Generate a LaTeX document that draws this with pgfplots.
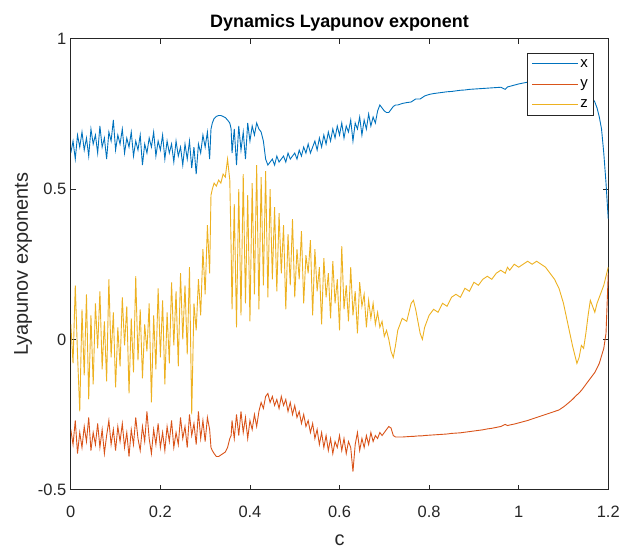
\documentclass[border=0pt]{standalone}
\usepackage{fontspec}
\setmainfont{Liberation Sans}
\usepackage{pgfplots}
\usepackage{pgfplotstable}
\pgfplotsset{compat=1.18}
\definecolor{mblue}{rgb}{0,0.447,0.741}
\definecolor{morange}{rgb}{0.85,0.325,0.098}
\definecolor{myellow}{rgb}{0.929,0.694,0.125}
\definecolor{axgray}{rgb}{0.15,0.15,0.15}
\pgfplotstableread{
c x y z
0.000 0.62 -0.30 0.05
0.005 0.66 -0.35 -0.08
0.010 0.60 -0.27 0.18
0.015 0.68 -0.38 -0.05
0.020 0.64 -0.31 -0.24
0.025 0.69 -0.36 0.10
0.030 0.63 -0.29 -0.12
0.035 0.67 -0.34 0.15
0.040 0.61 -0.26 -0.20
0.045 0.70 -0.37 0.08
0.050 0.65 -0.31 -0.15
0.055 0.68 -0.35 0.12
0.060 0.62 -0.28 -0.03
0.065 0.71 -0.36 0.16
0.070 0.64 -0.30 -0.10
0.075 0.67 -0.38 0.06
0.080 0.60 -0.32 -0.14
0.085 0.69 -0.27 0.20
0.090 0.66 -0.35 -0.06
0.095 0.73 -0.30 0.09
0.100 0.63 -0.37 -0.16
0.105 0.68 -0.29 0.04
0.110 0.65 -0.34 -0.09
0.115 0.70 -0.28 0.14
0.120 0.62 -0.36 -0.02
0.125 0.67 -0.31 0.11
0.130 0.64 -0.39 -0.18
0.135 0.69 -0.30 0.07
0.140 0.61 -0.35 -0.11
0.145 0.66 -0.26 0.21
0.150 0.63 -0.33 -0.07
0.155 0.68 -0.37 0.10
0.160 0.58 -0.29 -0.13
0.165 0.65 -0.34 0.05
0.170 0.62 -0.24 -0.04
0.175 0.67 -0.33 0.12
0.180 0.64 -0.38 -0.21
0.185 0.69 -0.30 0.08
0.190 0.61 -0.35 -0.10
0.195 0.66 -0.28 0.17
0.200 0.63 -0.36 -0.06
0.205 0.68 -0.31 0.13
0.210 0.60 -0.37 -0.15
0.215 0.66 -0.29 0.09
0.220 0.62 -0.34 -0.08
0.225 0.65 -0.27 0.19
0.230 0.59 -0.36 -0.02
0.235 0.66 -0.31 0.16
0.240 0.61 -0.35 -0.09
0.245 0.64 -0.26 0.22
0.250 0.58 -0.33 0.00
0.255 0.65 -0.29 0.18
0.260 0.60 -0.36 -0.05
0.265 0.66 -0.25 0.24
0.270 0.57 -0.32 -0.25
0.275 0.64 -0.28 0.12
0.280 0.55 -0.35 0.03
0.285 0.65 -0.24 0.20
0.290 0.62 -0.33 0.08
0.295 0.68 -0.27 0.30
0.300 0.64 -0.34 0.15
0.305 0.69 -0.26 0.38
0.310 0.60 -0.30 0.22
0.313 0.70 -0.36 0.48
0.316 0.72 -0.37 0.50
0.320 0.735 -0.38 0.52
0.325 0.742 -0.39 0.51
0.330 0.745 -0.39 0.53
0.335 0.745 -0.385 0.52
0.340 0.742 -0.38 0.55
0.345 0.738 -0.375 0.54
0.350 0.73 -0.36 0.60
0.355 0.72 -0.33 0.53
0.358 0.70 -0.32 0.30
0.360 0.62 -0.27 0.10
0.365 0.70 -0.33 0.45
0.370 0.58 -0.25 0.04
0.375 0.71 -0.32 0.50
0.380 0.63 -0.24 0.08
0.385 0.69 -0.31 0.55
0.390 0.60 -0.26 0.12
0.395 0.72 -0.33 0.48
0.400 0.66 -0.27 0.06
0.405 0.71 -0.30 0.52
0.410 0.68 -0.25 0.15
0.415 0.72 -0.29 0.58
0.420 0.70 -0.24 0.10
0.425 0.69 -0.21 0.54
0.430 0.66 -0.23 0.18
0.435 0.60 -0.19 0.56
0.440 0.58 -0.18 0.14
0.445 0.59 -0.21 0.50
0.450 0.60 -0.19 0.20
0.455 0.58 -0.22 0.44
0.460 0.61 -0.20 0.16
0.465 0.59 -0.23 0.42
0.470 0.60 -0.19 0.22
0.475 0.61 -0.22 0.38
0.480 0.59 -0.20 0.10
0.485 0.62 -0.24 0.35
0.490 0.60 -0.21 0.18
0.495 0.61 -0.25 0.40
0.500 0.62 -0.22 0.14
0.505 0.60 -0.26 0.30
0.510 0.63 -0.24 0.20
0.515 0.61 -0.28 0.36
0.520 0.64 -0.25 0.12
0.525 0.62 -0.29 0.28
0.530 0.65 -0.27 0.22
0.535 0.62 -0.31 0.33
0.540 0.64 -0.28 0.08
0.545 0.66 -0.33 0.30
0.550 0.63 -0.30 0.16
0.555 0.67 -0.35 0.24
0.560 0.64 -0.31 0.05
0.565 0.68 -0.36 0.27
0.570 0.65 -0.32 0.14
0.575 0.69 -0.37 0.22
0.580 0.66 -0.33 0.07
0.585 0.70 -0.38 0.26
0.590 0.67 -0.34 0.12
0.595 0.71 -0.36 0.20
0.600 0.68 -0.32 0.03
0.605 0.72 -0.37 0.31
0.610 0.67 -0.33 0.10
0.615 0.71 -0.38 0.18
0.620 0.69 -0.34 0.06
0.625 0.73 -0.36 0.24
0.630 0.66 -0.44 0.08
0.635 0.72 -0.35 0.16
0.640 0.70 -0.31 0.02
0.645 0.74 -0.37 0.19
0.650 0.68 -0.33 0.11
0.655 0.73 -0.36 0.15
0.660 0.70 -0.32 0.04
0.665 0.75 -0.35 0.13
0.670 0.71 -0.31 0.07
0.675 0.74 -0.34 0.12
0.680 0.72 -0.32 0.05
0.685 0.76 -0.33 0.09
0.690 0.78 -0.31 0.04
0.695 0.77 -0.32 0.06
0.700 0.76 -0.31 0.01
0.705 0.755 -0.30 0.03
0.710 0.755 -0.29 0.00
0.715 0.765 -0.295 -0.04
0.720 0.775 -0.32 -0.06
0.725 0.78 -0.325 -0.02
0.730 0.78 -0.325 0.03
0.740 0.785 -0.325 0.07
0.750 0.788 -0.324 0.06
0.760 0.79 -0.323 0.12
0.765 0.795 -0.323 0.13
0.770 0.80 -0.322 0.10
0.780 0.80 -0.321 0.02
0.785 0.805 -0.321 0.00
0.790 0.81 -0.32 0.04
0.800 0.815 -0.319 0.08
0.810 0.818 -0.318 0.10
0.820 0.82 -0.317 0.09
0.830 0.822 -0.316 0.12
0.840 0.824 -0.315 0.11
0.850 0.825 -0.313 0.14
0.860 0.827 -0.312 0.15
0.870 0.829 -0.311 0.14
0.880 0.83 -0.309 0.17
0.890 0.832 -0.307 0.16
0.900 0.833 -0.305 0.19
0.910 0.834 -0.303 0.18
0.920 0.835 -0.301 0.20
0.930 0.836 -0.298 0.21
0.940 0.837 -0.296 0.20
0.950 0.838 -0.293 0.22
0.960 0.839 -0.290 0.23
0.970 0.832 -0.283 0.22
0.975 0.84 -0.287 0.24
0.980 0.842 -0.285 0.23
0.990 0.846 -0.282 0.25
1.000 0.85 -0.278 0.24
1.010 0.853 -0.274 0.25
1.020 0.856 -0.270 0.26
1.030 0.858 -0.265 0.25
1.040 0.86 -0.260 0.26
1.050 0.862 -0.255 0.25
1.060 0.862 -0.250 0.24
1.070 0.860 -0.245 0.22
1.080 0.857 -0.240 0.20
1.090 0.854 -0.235 0.17
1.100 0.850 -0.225 0.12
1.110 0.846 -0.213 0.05
1.120 0.841 -0.200 -0.02
1.130 0.835 -0.185 -0.08
1.135 0.832 -0.178 -0.06
1.140 0.829 -0.170 -0.02
1.145 0.825 -0.160 -0.03
1.150 0.820 -0.150 0.02
1.155 0.815 -0.140 0.08
1.160 0.810 -0.130 0.13
1.165 0.802 -0.120 0.11
1.170 0.790 -0.110 0.09
1.175 0.770 -0.095 0.12
1.180 0.740 -0.080 0.14
1.185 0.700 -0.055 0.16
1.190 0.620 -0.030 0.18
1.195 0.520 0.020 0.21
1.200 0.400 0.220 0.24
}\data
\begin{document}
\begin{tikzpicture}
\begin{axis}[
  scale only axis, width=539bp, height=452bp,
  xmin=0, xmax=1.2, ymin=-0.5, ymax=1,
  xtick={0,0.2,0.4,0.6,0.8,1,1.2},
  xticklabels={0,0.2,0.4,0.6,0.8,1,1.2},
  ytick={-0.5,0,0.5,1},
  yticklabels={-0.5,0,0.5,1},
  tick align=inside, tick pos=both, major tick length=5bp,
  axis line style={axgray, line width=0.8bp},
  every tick/.style={axgray, line width=0.8bp},
  ticklabel style={font=\fontsize{16.5bp}{19bp}\selectfont, text=axgray},
  xticklabel style={yshift=-13bp},
  yticklabel style={xshift=-1bp},
  title={\bfseries Dynamics Lyapunov exponent},
  title style={font=\fontsize{18bp}{21bp}\selectfont, yshift=-2bp},
  xlabel={c}, ylabel={Lyapunov exponents},
  label style={font=\fontsize{20bp}{24bp}\selectfont, text=axgray},
  xlabel style={yshift=-10bp},
  ylabel style={yshift=-1bp},
  legend style={at={(rel axis cs:0.974,0.969)}, anchor=north east,
    font=\fontsize{15bp}{17bp}\selectfont, draw=axgray, line width=0.8bp,
    row sep=7bp, inner ysep=4bp, inner xsep=4bp},
  legend cell align=left,
  legend image code/.code={\draw[#1, line width=1bp] (0bp,0bp) -- (46bp,0bp);},
  every axis plot/.append style={line width=0.9bp},
]
\addplot[mblue] table[x=c, y=x] {\data};
\addplot[morange] table[x=c, y=y] {\data};
\addplot[myellow] table[x=c, y=z] {\data};
\legend{x,y,z}
\end{axis}
\path (-71bp,-56bp) rectangle (552bp,491bp);
\end{tikzpicture}
\end{document}
